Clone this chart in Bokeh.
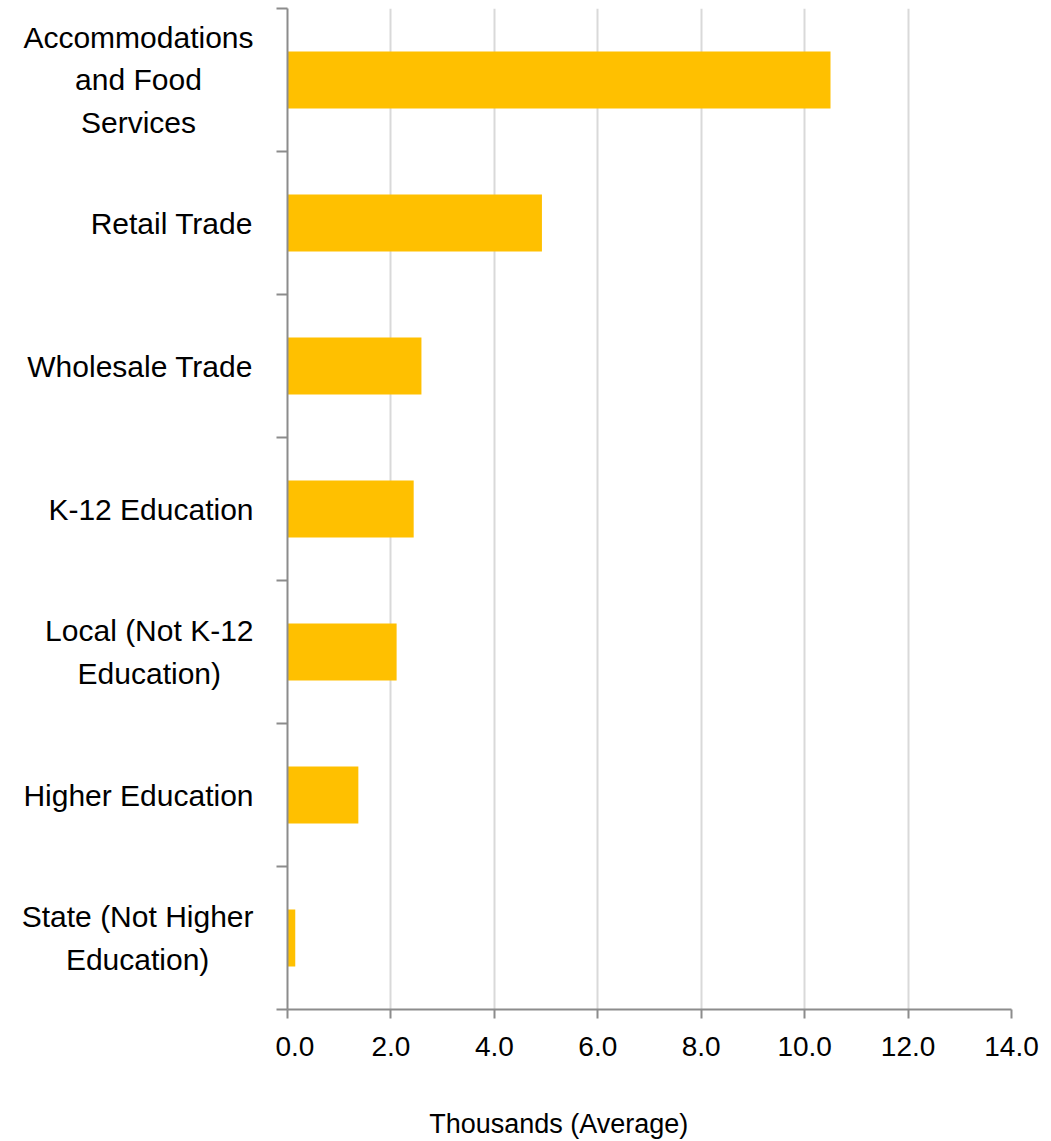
from bokeh.plotting import figure
from bokeh.models import Range1d, FixedTicker, LinearAxis, PrintfTickFormatter
from bokeh.layouts import row, column
from bokeh.core.properties import value
from bokeh.embed import file_html
from bokeh.resources import INLINE

# ---- data ----
categories = [
    "Accommodations\nand Food\nServices",
    "Retail Trade",
    "Wholesale Trade",
    "K-12 Education",
    "Local (Not K-12\nEducation)",
    "Higher Education",
    "State (Not Higher\nEducation)",
]
values = [10.5, 4.92, 2.59, 2.44, 2.11, 1.37, 0.15]
x_ticks = [0, 2, 4, 6, 8, 10, 12, 14]
x_label = "Thousands  (Average)"

FONT = "Liberation Sans"
CAT_SIZE = 30
TICK_SIZE = 28
TITLE_SIZE = 27
AXIS_COLOR = "#8C8C8C"
PAGE_W, PAGE_H = 1051, 1141
TITLE_H = 50
H = PAGE_H - TITLE_H
TOP, BOTTOM = 8, 82
LABEL_W = 275

# Liberation Sans advance widths (per 1000 em), for centering multi-line labels
W = {" ": 278, "(": 333, ")": 333, "-": 333, "1": 556, "2": 556,
     "A": 667, "E": 667, "F": 611, "H": 722, "K": 667, "L": 556, "N": 722,
     "R": 722, "S": 667, "T": 611, "W": 944,
     "a": 556, "c": 500, "d": 556, "e": 556, "g": 556, "h": 556, "i": 222,
     "l": 222, "m": 833, "n": 556, "o": 556, "r": 333, "s": 500, "t": 278,
     "u": 556, "v": 500}

def block_width(s, size):
    return max(sum(W.get(ch, 556) for ch in line) for line in s.split("\n")) / 1000 * size

n = len(categories)
ys = [i + 0.5 for i in range(n)]
yr = Range1d(n, 0)

def bare(fig):
    fig.outline_line_color = None
    fig.grid.grid_line_color = None
    return fig

# ---- label column ----
lab = bare(figure(width=LABEL_W, height=H, output_backend="svg", toolbar_location=None,
                  x_range=Range1d(0, LABEL_W), y_range=yr,
                  min_border_left=0, min_border_right=0, min_border_top=TOP, min_border_bottom=BOTTOM,
                  x_axis_location=None, y_axis_location=None))
label_x = [LABEL_W - 22 - block_width(c, CAT_SIZE) / 2 for c in categories]
lab.text(x=label_x, y=ys, text=categories, text_font=value(FONT),
         text_font_size=f"{CAT_SIZE}px", text_align="center", text_baseline="middle",
         text_line_height=1.3, text_color="black")

# ---- chart ----
p = figure(width=PAGE_W - LABEL_W, height=H, output_backend="svg", toolbar_location=None,
           x_range=Range1d(0, 14), y_range=yr,
           min_border_left=12, min_border_right=40, min_border_top=TOP, min_border_bottom=BOTTOM,
           x_axis_location=None, y_axis_location=None)
p.outline_line_color = None

p.hbar(y=ys, right=values, left=0, height=0.4, color="#FFC000", line_color=None)

xa = LinearAxis(ticker=FixedTicker(ticks=x_ticks), formatter=PrintfTickFormatter(format="%.1f"))
xa.axis_line_color = AXIS_COLOR
xa.axis_line_width = 2
xa.major_tick_line_color = AXIS_COLOR
xa.major_tick_line_width = 2
xa.major_tick_in = 0
xa.major_tick_out = 9
xa.minor_tick_line_color = None
xa.major_label_text_font = FONT
xa.major_label_text_font_size = f"{TICK_SIZE}px"
xa.major_label_text_color = "black"
xa.major_label_standoff = 18
p.add_layout(xa, "below")

ya = LinearAxis(ticker=FixedTicker(ticks=list(range(n + 1))))
ya.axis_line_color = AXIS_COLOR
ya.axis_line_width = 2
ya.major_tick_line_color = AXIS_COLOR
ya.major_tick_line_width = 2
ya.major_tick_in = 0
ya.major_tick_out = 11
ya.minor_tick_line_color = None
ya.major_label_text_font_size = "0px"
ya.major_label_overrides = {i: "" for i in range(n + 1)}
p.add_layout(ya, "left")

p.xgrid.ticker = FixedTicker(ticks=x_ticks[1:])
p.xgrid.grid_line_color = "#D9D9D9"
p.xgrid.grid_line_width = 2
p.ygrid.grid_line_color = None

# ---- axis title strip ----
tf = bare(figure(width=PAGE_W, height=TITLE_H, output_backend="svg", toolbar_location=None,
                 x_range=Range1d(0, PAGE_W), y_range=Range1d(0, TITLE_H),
                 min_border=0, x_axis_location=None, y_axis_location=None))
tf.text(x=[562], y=[18], text=[x_label], text_font=value(FONT),
        text_font_size=f"{TITLE_SIZE}px", text_align="center", text_baseline="middle",
        text_color="black")

layout = column(row(lab, p, spacing=0), tf, spacing=0)
open("out.html", "w").write(file_html(layout, INLINE))
